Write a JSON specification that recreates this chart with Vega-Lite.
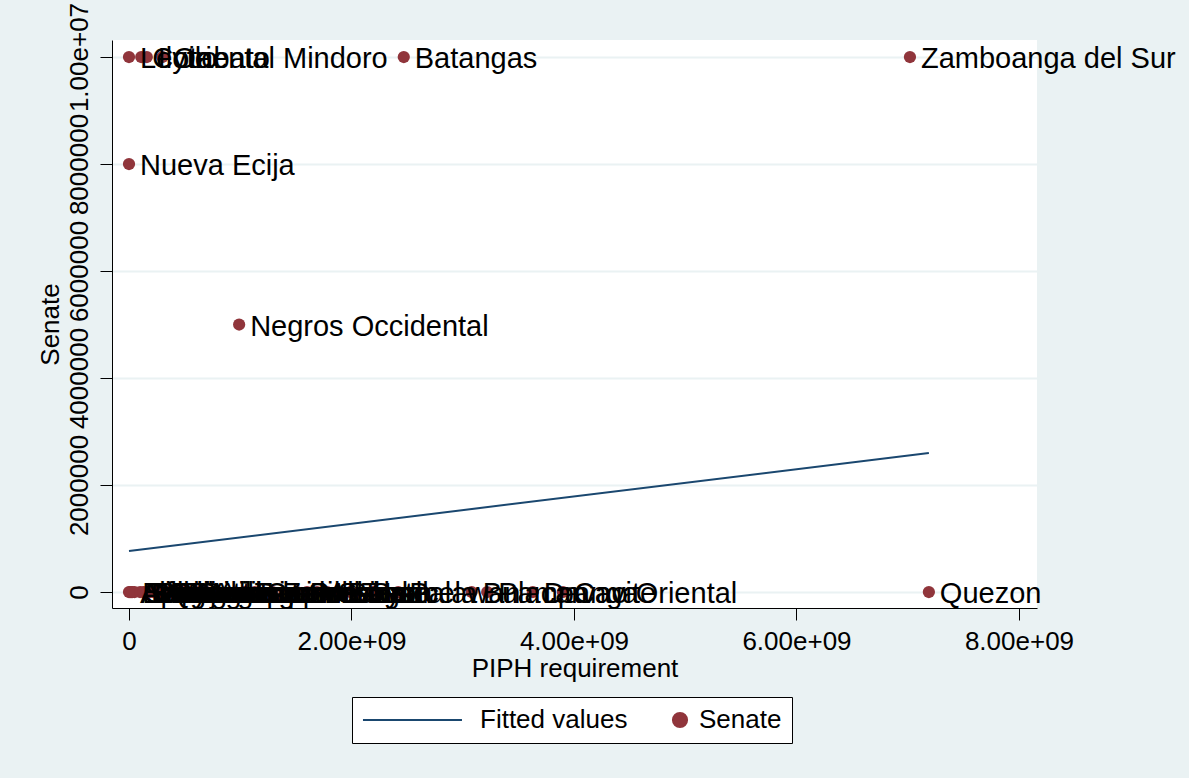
{
  "$schema": "https://vega.github.io/schema/vega-lite/v6.json",
  "width": 925,
  "height": 568,
  "autosize": {"type": "none"},
  "padding": {"left": 112, "top": 40, "right": 152, "bottom": 170},
  "background": "#EAF2F3",
  "config": {
    "font": "Liberation Sans",
    "view": {"fill": "white", "stroke": null},
    "axis": {
      "domainColor": "black",
      "tickColor": "black",
      "labelColor": "black",
      "titleColor": "black",
      "labelFontSize": 26,
      "titleFontSize": 26,
      "titleFontWeight": "normal",
      "tickSize": 12,
      "labelFlush": false,
      "labelOverlap": false
    },
    "legend": {
      "orient": "none",
      "legendX": 240,
      "legendY": 657,
      "direction": "horizontal",
      "strokeColor": "black",
      "fillColor": "white",
      "padding": 10,
      "labelFontSize": 26,
      "labelColor": "black",
      "columnPadding": 39,
      "labelOffset": 6,
      "symbolSize": 200,
      "cornerRadius": 0
    }
  },
  "datasets": {
    "pts": [
      {"province": "Leyte", "piph": 0, "senate": 10000000},
      {"province": "Cotabato", "piph": 110000000, "senate": 10000000},
      {"province": "Iloilo", "piph": 160000000, "senate": 10000000},
      {"province": "Oriental Mindoro", "piph": 300000000, "senate": 10000000},
      {"province": "Batangas", "piph": 2470000000, "senate": 10000000},
      {"province": "Zamboanga del Sur", "piph": 7020000000, "senate": 10000000},
      {"province": "Nueva Ecija", "piph": 0, "senate": 8000000},
      {"province": "Negros Occidental", "piph": 990000000, "senate": 5000000},
      {"province": "Abra", "piph": 0, "senate": 0},
      {"province": "Apayao", "piph": 10000000, "senate": 0},
      {"province": "Batanes", "piph": 20000000, "senate": 0},
      {"province": "Camiguin", "piph": 30000000, "senate": 0},
      {"province": "Siquijor", "piph": 50000000, "senate": 0},
      {"province": "Biliran", "piph": 100000000, "senate": 0},
      {"province": "Guimaras", "piph": 130000000, "senate": 0},
      {"province": "Ifugao", "piph": 160000000, "senate": 0},
      {"province": "Kalinga", "piph": 190000000, "senate": 0},
      {"province": "Aurora", "piph": 220000000, "senate": 0},
      {"province": "Quirino", "piph": 260000000, "senate": 0},
      {"province": "Marinduque", "piph": 300000000, "senate": 0},
      {"province": "Romblon", "piph": 340000000, "senate": 0},
      {"province": "Mountain Province", "piph": 380000000, "senate": 0},
      {"province": "Tawi-Tawi", "piph": 420000000, "senate": 0},
      {"province": "Basilan", "piph": 460000000, "senate": 0},
      {"province": "Catanduanes", "piph": 500000000, "senate": 0},
      {"province": "Sarangani", "piph": 550000000, "senate": 0},
      {"province": "Antique", "piph": 600000000, "senate": 0},
      {"province": "Aklan", "piph": 640000000, "senate": 0},
      {"province": "Agusan del Sur", "piph": 700000000, "senate": 0},
      {"province": "Bataan", "piph": 1040000000, "senate": 0},
      {"province": "Capiz", "piph": 1130000000, "senate": 0},
      {"province": "Zambales", "piph": 1290000000, "senate": 0},
      {"province": "Sorsogon", "piph": 1510000000, "senate": 0},
      {"province": "Masbate", "piph": 1600000000, "senate": 0},
      {"province": "Albay", "piph": 1690000000, "senate": 0},
      {"province": "Samar", "piph": 1780000000, "senate": 0},
      {"province": "Bohol", "piph": 1870000000, "senate": 0},
      {"province": "Tarlac", "piph": 1990000000, "senate": 0},
      {"province": "Isabela", "piph": 2190000000, "senate": 0},
      {"province": "Palawan", "piph": 2420000000, "senate": 0},
      {"province": "Bulacan", "piph": 3080000000, "senate": 0},
      {"province": "Pampanga", "piph": 3220000000, "senate": 0},
      {"province": "Davao Oriental", "piph": 3630000000, "senate": 0},
      {"province": "Cavite", "piph": 3900000000, "senate": 0},
      {"province": "Quezon", "piph": 7190000000, "senate": 0}
    ],
    "fit": [
      {"piph": 0, "fitted": 766000},
      {"piph": 7190000000, "fitted": 2598000}
    ]
  },
  "layer": [
    {
      "data": {"name": "fit"},
      "mark": {"type": "line", "strokeWidth": 2},
      "encoding": {
        "x": {
          "field": "piph", "type": "quantitative",
          "scale": {"domain": [-152800000, 8162000000], "nice": false, "zero": false},
          "axis": {
            "title": "PIPH requirement",
            "values": [0, 2000000000, 4000000000, 6000000000, 8000000000],
            "labelExpr": "datum.value == 0 ? '0' : replace(format(datum.value, '.2e'), 'e+', 'e+0')",
            "grid": false,
            "labelPadding": 8,
            "titlePadding": 1
          }
        },
        "y": {
          "field": "fitted", "type": "quantitative",
          "scale": {"domain": [-299000, 10318000], "nice": false, "zero": false},
          "axis": {
            "title": "Senate",
            "values": [0, 2000000, 4000000, 6000000, 8000000, 10000000],
            "labelExpr": "datum.value == 10000000 ? '1.00e+07' : format(datum.value, 'd')",
            "grid": true,
            "gridColor": "#EAF2F3",
            "gridWidth": 2,
            "labelAngle": -90,
            "labelAlign": "center",
            "labelBaseline": "bottom",
            "labelPadding": 8,
            "titlePadding": 3
          }
        },
        "color": {
          "datum": "Fitted values",
          "type": "nominal",
          "scale": {"domain": ["Fitted values", "Senate"], "range": ["#1A476F", "#90353B"]},
          "legend": {
            "title": null,
            "encode": {
              "symbols": {
                "update": {
                  "shape": {"signal": "datum.value === 'Senate' ? 'circle' : 'M-1.7,0H12.3'"},
                  "fill": {"signal": "datum.value === 'Senate' ? '#90353B' : 'transparent'"},
                  "stroke": {"signal": "datum.value === 'Senate' ? 'transparent' : '#1A476F'"},
                  "strokeWidth": {"value": 2},
                  "opacity": {"value": 1}
                }
              },
              "labels": {
                "update": {
                  "dx": {"signal": "datum.value === 'Senate' ? 0 : 86"}
                }
              }
            }
          }
        }
      }
    },
    {
      "data": {"name": "pts"},
      "mark": {"type": "point", "filled": true, "size": 150, "opacity": 1},
      "encoding": {
        "x": {"field": "piph", "type": "quantitative"},
        "y": {"field": "senate", "type": "quantitative"},
        "color": {"datum": "Senate", "type": "nominal"}
      }
    },
    {
      "data": {"name": "pts"},
      "mark": {"type": "text", "align": "left", "baseline": "middle", "dx": 11, "dy": 2, "fontSize": 29, "color": "black"},
      "encoding": {
        "x": {"field": "piph", "type": "quantitative"},
        "y": {"field": "senate", "type": "quantitative"},
        "text": {"field": "province"}
      }
    }
  ]
}
